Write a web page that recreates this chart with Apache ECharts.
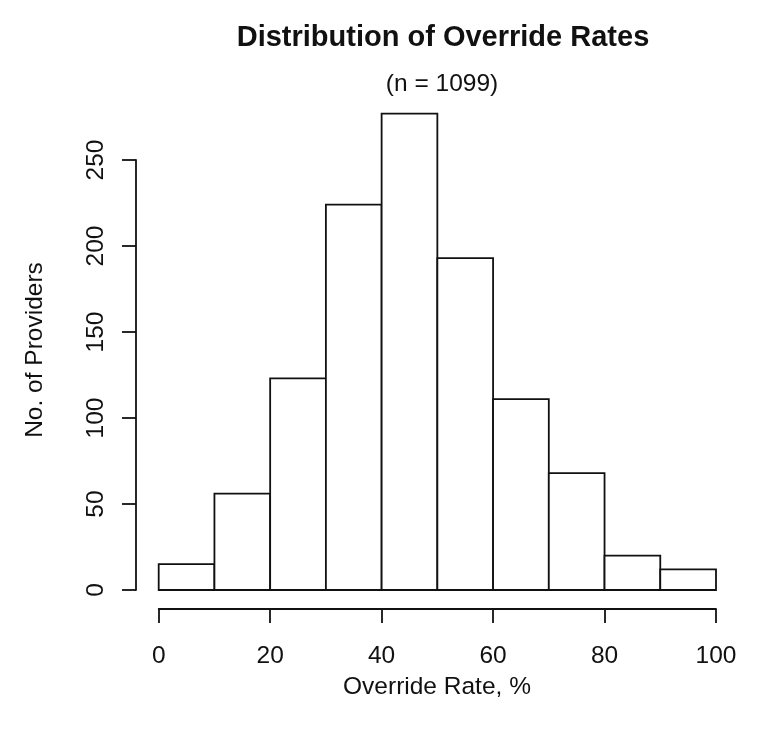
<!DOCTYPE html>
<html>
<head>
<meta charset="utf-8">
<script src="https://cdn.jsdelivr.net/npm/echarts@6/dist/echarts.min.js"></script>
<style>html,body{margin:0;padding:0;background:#fff}#c{width:760px;height:749px}</style>
</head>
<body>
<div id="c"></div>
<script>
const binStarts = [0, 10, 20, 30, 40, 50, 60, 70, 80, 90];
const binWidth = 10;
const counts = [15, 56, 123, 224, 277, 193, 111, 68, 20, 12];
const titleText = 'Distribution of Override Rates';
const subtitleText = '(n = 1099)';
const xName = 'Override Rate, %';
const yName = 'No. of Providers';

const FONT = '"Liberation Sans", Arial, Helvetica, sans-serif';
const INK = '#111';
const FS = 24.5;
const data = binStarts.map((s, i) => [s, s + binWidth, counts[i]]);

const chart = echarts.init(document.getElementById('c'), null, {renderer: 'canvas'});
chart.setOption({
  backgroundColor: '#fff',
  animation: false,
  title: [
    {text: titleText, left: 438, top: 18, textAlign: 'center',
     textStyle: {fontFamily: FONT, fontSize: 29, fontWeight: 'bold', color: INK}},
    {text: subtitleText, left: 437, top: 67, textAlign: 'center',
     textStyle: {fontFamily: FONT, fontSize: FS, fontWeight: 'normal', color: INK}}
  ],
  graphic: [
    {type: 'text', x: 437, y: 687,
     style: {text: xName, font: FS + 'px ' + FONT, fill: INK, textAlign: 'center', textVerticalAlign: 'middle'}},
    {type: 'text', x: 35, y: 350, rotation: Math.PI / 2,
     style: {text: yName, font: FS + 'px ' + FONT, fill: INK, textAlign: 'center', textVerticalAlign: 'middle'}}
  ],
  grid: {left: 158.7, right: 44, top: 160, bottom: 159, containLabel: false},
  xAxis: {
    type: 'value', min: 0, max: 100, interval: 20, offset: 19,
    axisLine: {show: true, onZero: false, lineStyle: {color: INK, width: 1.8}},
    axisTick: {show: true, length: 14, lineStyle: {color: INK, width: 1.8}},
    axisLabel: {margin: 35, fontFamily: FONT, fontSize: FS, color: INK},
    splitLine: {show: false}
  },
  yAxis: {
    type: 'value', min: 0, max: 250, interval: 50, offset: 22.7,
    axisLine: {show: true, onZero: false, lineStyle: {color: INK, width: 1.8}},
    axisTick: {show: true, length: 14, lineStyle: {color: INK, width: 1.8}},
    axisLabel: {margin: 27, rotate: 90, fontFamily: FONT, fontSize: FS, color: INK},
    splitLine: {show: false}
  },
  series: [{
    type: 'custom',
    clip: false,
    data: data,
    encode: {x: [0, 1], y: 2},
    renderItem: function (params, api) {
      const p1 = api.coord([api.value(0), api.value(2)]);
      const p2 = api.coord([api.value(1), 0]);
      return {
        type: 'rect',
        shape: {x: p1[0], y: p1[1], width: p2[0] - p1[0], height: p2[1] - p1[1]},
        style: {fill: '#fff', stroke: INK, lineWidth: 1.8}
      };
    }
  }]
});
</script>
</body>
</html>
